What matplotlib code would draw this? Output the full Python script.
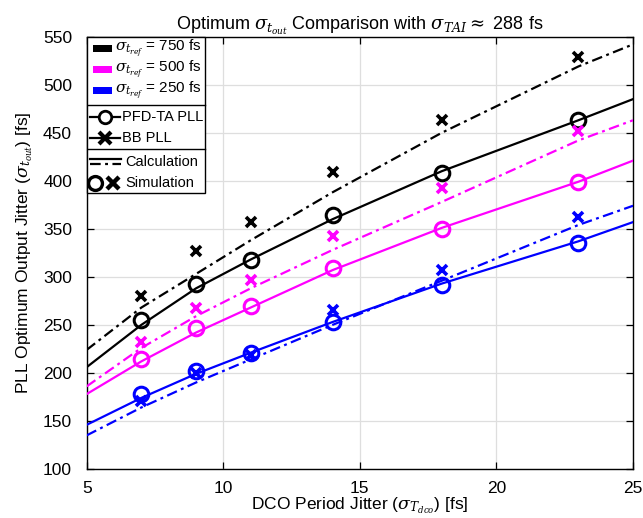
import matplotlib
matplotlib.use("Agg")
import matplotlib.pyplot as plt
from matplotlib.lines import Line2D
from matplotlib.patches import Rectangle

plt.rcParams['font.family'] = ['Liberation Sans', 'DejaVu Sans']
plt.rcParams['mathtext.fontset'] = 'dejavuserif'

# ---------------- data ----------------
x_sim = [7, 9, 11, 14, 18, 23]
sim_pfd_750 = [255, 293, 318, 364, 408, 463]
sim_bb_750 = [280, 327, 357, 409, 463, 529]
sim_pfd_500 = [215, 247, 270, 309, 350, 399]
sim_bb_500 = [232, 268, 297, 343, 392, 452]
sim_pfd_250 = [178, 202, 221, 253, 292, 335]
sim_bb_250 = [171, 200, 219, 265, 307, 362]

x_calc = [5, 7, 9, 11, 14, 18, 23, 25]
calc_pfd_750 = [206, 250, 288, 318, 360, 410, 463, 485]
calc_bb_750 = [224, 268, 303, 338, 388, 450, 519, 542]
calc_pfd_500 = [178, 212, 242, 268, 307, 351, 399, 421]
calc_bb_500 = [186, 226, 259, 288, 328, 378, 442, 463]
calc_pfd_250 = [146, 174, 199, 221, 253, 293, 337, 357]
calc_bb_250 = [135, 164, 190, 214, 250, 296, 354, 374]

xticks = [5, 10, 15, 20, 25]
yticks = [100, 150, 200, 250, 300, 350, 400, 450, 500, 550]
ref_labels = ['750', '500', '250']
colors = ['black', '#ff00ff', '#0000ff']

# ---------------- figure ----------------
fig = plt.figure(figsize=(6.43, 5.18), dpi=100)
ax = fig.add_axes([0.1348, 0.0946, 0.8497, 0.8346])

dash = (0, (4.8, 2.0, 1.3, 2.0))
lw = 1.6
calc_sets = [(calc_pfd_750, calc_bb_750), (calc_pfd_500, calc_bb_500), (calc_pfd_250, calc_bb_250)]
sim_sets = [(sim_pfd_750, sim_bb_750), (sim_pfd_500, sim_bb_500), (sim_pfd_250, sim_bb_250)]

for c, (pfd, bb) in zip(colors, calc_sets):
    ax.plot(x_calc, pfd, color=c, lw=lw, ls='-', zorder=3)
    ax.plot(x_calc, bb, color=c, lw=lw, ls=dash, zorder=3)
for c, (pfd, bb) in zip(colors, sim_sets):
    ax.plot(x_sim, bb, ls='none', marker='x', ms=7, mew=2.6, color=c, zorder=4)
    ax.plot(x_sim, pfd, ls='none', marker='o', ms=10.5, mew=2.2, mfc='none', mec=c, zorder=4)

ax.set_xlim(5, 25)
ax.set_ylim(100, 550)
ax.set_xticks(xticks)
ax.set_yticks(yticks)
ax.tick_params(direction='in', length=5, width=0.9, labelsize=12.5, top=True, right=True)
ax.tick_params(axis='x', pad=9)
ax.tick_params(axis='y', pad=10.5)
ax.grid(True, color='#dedede', lw=0.9)
ax.set_axisbelow(True)
for s in ax.spines.values():
    s.set_linewidth(1.0)

ax.set_title(r'Optimum $\sigma_{t_{out}}$ Comparison with $\sigma_{TAI}\approx$ 288 fs', fontsize=13, pad=5)
ax.set_xlabel(r'DCO Period Jitter ($\sigma_{T_{dco}}$) [fs]', fontsize=12.5, labelpad=-1)
ax.set_ylabel(r'PLL Optimum Output Jitter ($\sigma_{t_{out}}$) [fs]', fontsize=12.5, labelpad=6)

# ---------------- custom legend ----------------
T = ax.transAxes
W = 546.3
H = 432.3
def fx(px):
    return (px - 86.7) / W
def fy(py):
    return (469.0 - py) / H

box_right = fx(205)
ax.add_patch(Rectangle((0, fy(193)), box_right, 1 - fy(193), transform=T,
                       fc='white', ec='black', lw=1.0, zorder=10, clip_on=False))
for ysep in [105, 149.3]:
    ax.add_line(Line2D([0, box_right], [fy(ysep), fy(ysep)], transform=T, color='black', lw=1.0, zorder=11))

fs_leg = 10.5
for i, (c, lab) in enumerate(zip(colors, ref_labels)):
    yy = [48.3, 69.5, 90.5][i]
    ax.add_patch(Rectangle((fx(93.3), fy(yy + 3.5)), fx(111.7) - fx(93.3), fy(yy - 3.5) - fy(yy + 3.5),
                           transform=T, fc=c, ec='none', zorder=12))
    ax.text(fx(115.5), fy(yy), r'$\sigma_{t_{ref}}$ = ' + lab + ' fs', transform=T, fontsize=11,
            va='center', ha='left', zorder=12)

# PFD-TA PLL
yy = 117.3
ax.add_line(Line2D([fx(90), fx(120)], [fy(yy), fy(yy)], transform=T, color='black', lw=lw, zorder=12))
ax.add_line(Line2D([fx(105)], [fy(yy)], transform=T, ls='none', marker='o', ms=9, mew=2.0, mfc='white',
                   mec='black', zorder=13))
ax.text(fx(122.5), fy(yy), 'PFD-TA PLL', transform=T, fontsize=fs_leg, va='center', ha='left', zorder=12)
# BB PLL
yy = 138.3
ax.add_line(Line2D([fx(90), fx(120)], [fy(yy), fy(yy)], transform=T, color='black', lw=lw, zorder=12))
ax.add_line(Line2D([fx(105)], [fy(yy)], transform=T, ls='none', marker='x', ms=8, mew=3.0, color='black',
                   zorder=13))
ax.text(fx(122.5), fy(yy), 'BB PLL', transform=T, fontsize=fs_leg, va='center', ha='left', zorder=12)
# Calculation
ax.add_line(Line2D([fx(90), fx(121)], [fy(159), fy(159)], transform=T, color='black', lw=lw, zorder=12))
ax.add_line(Line2D([fx(90), fx(121)], [fy(164.5), fy(164.5)], transform=T, color='black', lw=lw, ls=dash,
                   zorder=12))
ax.text(fx(125.5), fy(161.7), 'Calculation', transform=T, fontsize=fs_leg, va='center', ha='left', zorder=12)
# Simulation
yy = 182.7
ax.add_line(Line2D([fx(95)], [fy(yy)], transform=T, ls='none', marker='o', ms=10, mew=2.4, mfc='none',
                   mec='black', zorder=13))
ax.add_line(Line2D([fx(113)], [fy(yy)], transform=T, ls='none', marker='x', ms=8.5, mew=3.2, color='black',
                   zorder=13))
ax.text(fx(125.5), fy(yy), 'Simulation', transform=T, fontsize=fs_leg, va='center', ha='left', zorder=12)

fig.savefig('out.png', dpi=100)
